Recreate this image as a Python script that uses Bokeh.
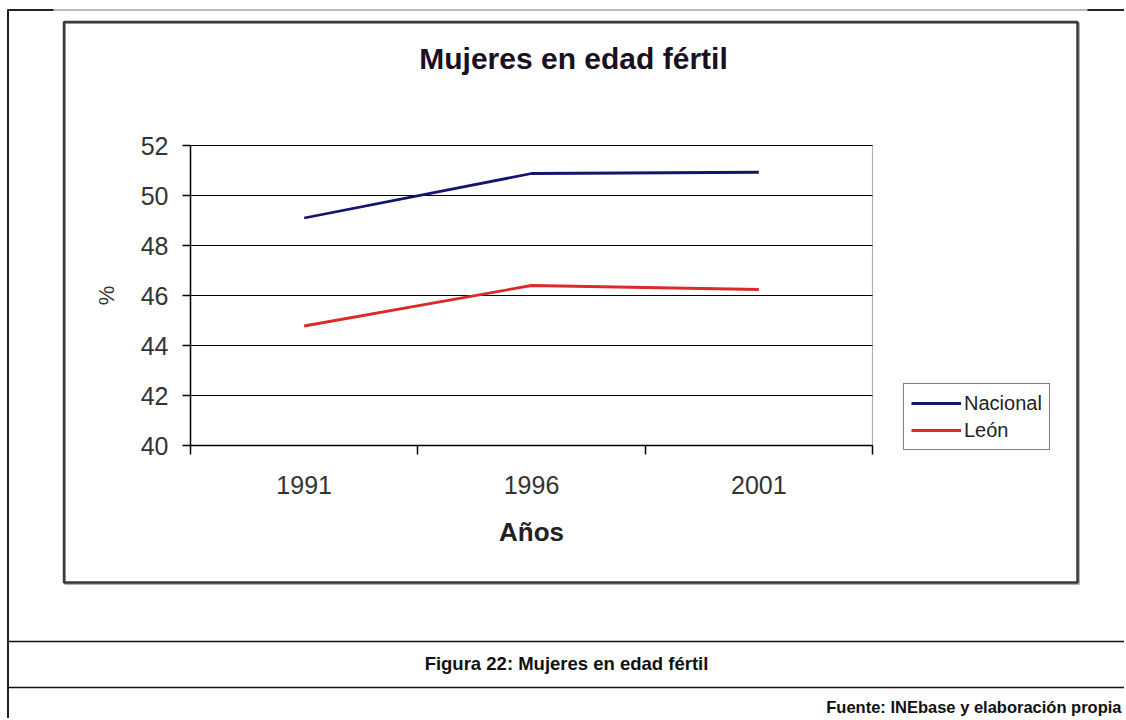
from bokeh.plotting import figure
from bokeh.models import (FixedTicker, Label, BoxAnnotation, Legend, LegendItem,
                          Range1d, LinearAxis)
from bokeh.embed import file_html
from bokeh.resources import INLINE

# ---- data ----
years = ["1991", "1996", "2001"]
nacional = [49.1, 50.88, 50.93]
leon = [44.78, 46.4, 46.24]
y_ticks = [40, 42, 44, 46, 48, 50, 52]

title_text = "Mujeres en edad fértil"
caption_text = "Figura 22: Mujeres en edad fértil"
source_text = "Fuente: INEbase y elaboración propia"
x_title = "Años"
y_title = "%"

FONT = "Liberation Sans"
W, H = 1124, 718
# plot-area edges in canvas pixels
FL, FR, FT, FB = 190, 872, 145, 445

n = len(years)
ymin, ymax = y_ticks[0], y_ticks[-1]
kx = (FR - FL) / n
ky = (FB - FT) / (ymax - ymin)
x_range = Range1d(-FL / kx, (W - FL) / kx)
y_range = Range1d(ymin - (H - FB) / ky, ymax + FT / ky)

xs = [i + 0.5 for i in range(n)]

p = figure(width=W, height=H, output_backend="svg", toolbar_location=None,
           x_range=x_range, y_range=y_range, x_axis_type=None, y_axis_type=None,
           min_border=0)
p.background_fill_color = "white"
p.border_fill_color = "white"
p.outline_line_color = None
p.xgrid.visible = False
p.ygrid.visible = False

# x axis (category boundaries carry the tick marks)
xaxis = LinearAxis(fixed_location=ymin, bounds=(0, n),
                   ticker=FixedTicker(ticks=xs, minor_ticks=list(range(n + 1))))
xaxis.major_label_overrides = {x: y for x, y in zip(xs, years)}
xaxis.major_tick_out = 0
xaxis.major_tick_in = 0
xaxis.minor_tick_out = 9
xaxis.minor_tick_in = 0
xaxis.minor_tick_line_color = "black"
xaxis.minor_tick_line_width = 1.5
xaxis.axis_line_color = "black"
xaxis.axis_line_width = 1.5
xaxis.major_label_text_font = FONT
xaxis.major_label_text_font_size = "25px"
xaxis.major_label_text_color = "#333333"
xaxis.major_label_standoff = 21
xaxis.axis_label = x_title
xaxis.axis_label_text_font = FONT
xaxis.axis_label_text_font_size = "26px"
xaxis.axis_label_text_font_style = "bold"
xaxis.axis_label_text_color = "#222222"
xaxis.axis_label_standoff = 20
p.add_layout(xaxis, "below")

yaxis = LinearAxis(fixed_location=0, bounds=(ymin, ymax),
                   ticker=FixedTicker(ticks=y_ticks))
yaxis.major_tick_out = 8
yaxis.major_tick_in = 0
yaxis.minor_tick_out = 0
yaxis.minor_tick_in = 0
yaxis.major_tick_line_color = "black"
yaxis.major_tick_line_width = 1.5
yaxis.axis_line_color = "black"
yaxis.axis_line_width = 1.5
yaxis.major_label_text_font = FONT
yaxis.major_label_text_font_size = "25px"
yaxis.major_label_text_color = "#333333"
yaxis.major_label_standoff = 14
yaxis.axis_label = y_title
yaxis.axis_label_text_font = FONT
yaxis.axis_label_text_font_size = "22px"
yaxis.axis_label_text_font_style = "normal"
yaxis.axis_label_text_color = "#333333"
yaxis.axis_label_standoff = 19
p.add_layout(yaxis, "left")

# horizontal gridlines across the plot area, and plot-area border
p.segment(x0=[0] * len(y_ticks), x1=[n] * len(y_ticks), y0=y_ticks, y1=y_ticks,
          line_color="black", line_width=1.2)
p.add_layout(BoxAnnotation(left=0, right=n, bottom=ymin, top=ymax,
                           fill_alpha=0, line_color="black", line_width=1.2,
                           level="underlay"))

r1 = p.line(xs, nacional, line_color="#14146e", line_width=2.8)
r2 = p.line(xs, leon, line_color="#dc2a2a", line_width=2.8)


def sx(px):
    return px


def sy(py):
    return H - py


legend = Legend(items=[LegendItem(label="Nacional", renderers=[r1]),
                       LegendItem(label="León", renderers=[r2])],
                location=(sx(903), sy(450)), orientation="vertical")
legend.margin = 0
legend.padding = 7
legend.spacing = 3
legend.glyph_width = 50
legend.glyph_height = 24
legend.label_height = 24
legend.label_standoff = 3
legend.label_text_font = FONT
legend.label_text_font_size = "20px"
legend.label_text_color = "#222222"
legend.border_line_color = "black"
legend.border_line_width = 1.5
legend.background_fill_color = "white"
legend.background_fill_alpha = 1
p.add_layout(legend, "center")


def box(x0, y0, x1, y1, color, width=None, fill=None):
    b = BoxAnnotation(left=sx(x0), right=sx(x1), top=sy(y0), bottom=sy(y1),
                      left_units="screen", right_units="screen",
                      top_units="screen", bottom_units="screen",
                      fill_alpha=0 if fill is None else 1,
                      fill_color=fill if fill is not None else "white",
                      line_color=color if color else "black",
                      line_alpha=1 if color else 0,
                      line_width=width if width else 1,
                      level="underlay")
    p.add_layout(b)


def rule(x0, x1, y, w, color):
    box(x0, y - w / 2, x1, y + w / 2, None, fill=color)


def vrule(x, y0, y1, w, color):
    box(x - w / 2, y0, x + w / 2, y1, None, fill=color)


# document table lines
rule(7, W, 9.5, 1, "#777777")
rule(7, 53, 9.5, 2, "#222222")
rule(1087, W, 9.5, 2, "#222222")
vrule(7.5, 9, H, 2, "#222222")
rule(7, W, 641, 1.6, "#111111")
rule(7, W, 687, 1.6, "#111111")

# chart border with slight shadow
box(64.5, 22.5, 1078.5, 583.5, "#b0b0b0", 2)
box(63.5, 21.5, 1077, 582, "#3a3a3a", 2.5)


def label(text, x, y, size, bold=False, align="center", color="#111111"):
    lb = Label(x=sx(x), y=sy(y), x_units="screen", y_units="screen", text=text,
               text_font=FONT, text_font_size=size,
               text_font_style="bold" if bold else "normal",
               text_align=align, text_baseline="alphabetic", text_color=color)
    p.add_layout(lb)


label(title_text, 573, 58, "30px", bold=True, color="#1a1020")
label(caption_text, 566, 663, "18.5px", bold=True)
label(source_text, 1121, 706, "16.5px", bold=True, align="right")

open("out.html", "w").write(file_html(p, INLINE))
